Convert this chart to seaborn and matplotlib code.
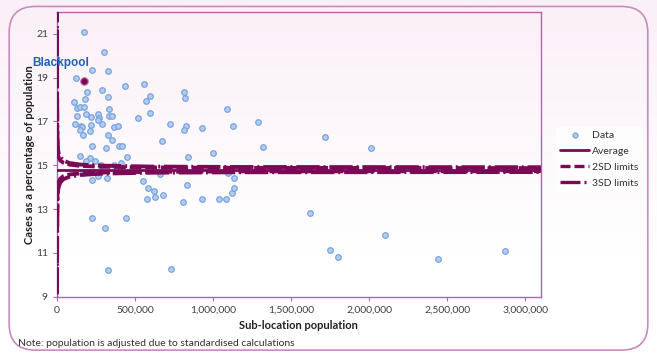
import matplotlib.pyplot as plt
import numpy as np
import pandas as pd
import seaborn as sns
from matplotlib.lines import Line2D
from matplotlib.patches import FancyBboxPatch

# points: population, cases as % of population
pop = [175000, 303000, 120000, 222000, 329000, 436000, 556000, 192000, 286000, 812000,
       820000, 594000, 568000, 325000, 107000, 179000, 128000, 147000, 175000, 333000,
       184000, 261000, 269000, 265000, 218000, 128000, 335000, 350000, 286000, 115000,
       152000, 162000, 218000, 149000, 213000, 165000, 367000, 389000, 521000, 596000,
       726000, 825000, 812000, 931000, 1088000, 329000, 350000, 675000, 222000, 316000,
       397000, 415000, 1000000, 838000, 449000, 145000, 213000, 1126000, 1287000, 1720000,
       1322000, 2011000, 186000, 242000, 284000, 365000, 408000, 222000, 263000, 322000,
       549000, 583000, 624000, 628000, 577000, 679000, 658000, 808000, 835000, 927000,
       1038000, 1083000, 1124000, 1135000, 1137000, 1094000, 226000, 310000, 440000, 325000,
       731000, 1620000, 1752000, 1801000, 2100000, 2444000, 2874000, 165000]
pct = [21.08, 20.18, 18.97, 19.35, 19.29, 18.62, 18.70, 18.36, 18.42, 18.33,
       18.07, 18.14, 17.91, 18.12, 17.90, 18.02, 17.62, 17.66, 17.68, 17.58,
       17.35, 17.35, 17.17, 17.05, 17.19, 17.23, 17.26, 17.26, 16.89, 16.86,
       16.77, 16.73, 16.83, 16.59, 16.58, 16.38, 16.74, 16.80, 17.14, 17.39,
       16.89, 16.80, 16.62, 16.68, 17.56, 16.36, 16.14, 16.12, 15.86, 15.80,
       15.86, 15.86, 15.56, 15.38, 15.38, 15.40, 15.33, 16.80, 16.99, 16.29,
       15.83, 15.79, 15.18, 15.20, 15.01, 15.01, 15.12, 14.34, 14.51, 14.44,
       14.29, 13.94, 13.83, 13.56, 13.47, 13.65, 14.59, 13.32, 14.08, 13.47,
       13.47, 13.47, 13.74, 13.95, 14.41, 14.65, 12.61, 12.14, 12.61, 10.23,
       10.26, 12.83, 11.14, 10.83, 11.83, 10.71, 11.08, 14.65]

blackpool_pop = 175000
blackpool_pct = 18.86

# control limits
lim_pop = [100, 300, 1000, 3000, 6000, 10000, 20000, 40000, 80000, 150000, 300000, 600000, 1200000, 3100000]
average = [14.8] * len(lim_pop)
upper2 = [21.2, 18.5, 16.8, 15.85, 15.5, 15.36, 15.22, 15.12, 15.03, 14.97, 14.93, 14.9, 14.88, 14.87]
lower2 = [8.4, 11.1, 12.8, 13.8, 14.1, 14.24, 14.38, 14.5, 14.58, 14.63, 14.67, 14.7, 14.72, 14.73]
upper3 = [24.4, 20.3, 17.8, 16.3, 15.75, 15.56, 15.38, 15.22, 15.1, 15.03, 14.98, 14.94, 14.92, 14.91]
lower3 = [5.2, 9.3, 11.8, 13.2, 13.8, 14.0, 14.2, 14.36, 14.48, 14.56, 14.62, 14.66, 14.68, 14.69]

sns.set_theme(style='white')
plt.rcParams['font.family'] = ['Lato', 'DejaVu Sans']

line_c = '#7A0A55'
frame_c = '#B565A5'
dot_face = '#B3CDF0'
dot_edge = '#79A3DD'

fig = plt.figure(figsize=(6.57, 3.58), dpi=100)

# background gradient + rounded frame
bg = fig.add_axes([0, 0, 1, 1], zorder=-5)
grad = np.linspace(0, 1, 256).reshape(-1, 1)
top = np.array([250, 240, 247]) / 255
white = np.array([1.0, 1.0, 1.0])
w = np.clip(grad / 0.7, 0, 1)[:, :, None]
img = w * white + (1 - w) * top
bg.imshow(img, aspect='auto', extent=[0, 1, 0, 1], origin='upper')
bg.add_patch(FancyBboxPatch((0.014, 0.022), 0.972, 0.96, boxstyle='round,pad=0,rounding_size=0.04',
                            mutation_aspect=1.8, fc='none', ec='#C98BBE', lw=1.2))
bg.set_xlim(0, 1)
bg.set_ylim(0, 1)
bg.axis('off')

ax = fig.add_axes([0.0868, 0.171, 0.7362, 0.796])
ax.set_facecolor('none')

df_pts = pd.DataFrame({'pop': pop, 'pct': pct})
sns.scatterplot(data=df_pts, x='pop', y='pct', ax=ax, s=16, color=dot_face,
                edgecolor=dot_edge, linewidth=0.9, zorder=3)

df_lim = pd.DataFrame({'pop': lim_pop, 'avg': average, 'u2': upper2, 'l2': lower2,
                       'u3': upper3, 'l3': lower3})
sns.lineplot(data=df_lim, x='pop', y='avg', ax=ax, color=line_c, lw=2.0, zorder=4)
for col in ['u2', 'l2']:
    sns.lineplot(data=df_lim, x='pop', y=col, ax=ax, color=line_c, lw=2.8, zorder=4,
                 dashes=False).lines[-1].set_dashes([3, 1.0])
for col in ['u3', 'l3']:
    sns.lineplot(data=df_lim, x='pop', y=col, ax=ax, color=line_c, lw=2.8, zorder=4,
                 dashes=False).lines[-1].set_dashes([6, 1.0, 0.5, 1.0])

ax.scatter([blackpool_pop], [blackpool_pct], s=30, color=line_c, edgecolor='#C080B0',
           linewidth=0.8, zorder=5)
ax.text(22000, 19.68, 'Blackpool', ha='center', va='center', color='#2060B8',
        fontsize=8.5, fontweight='bold', family=['Liberation Sans', 'DejaVu Sans'], zorder=6)

ax.set_xlim(0, 3100000)
ax.set_ylim(9, 22)
ax.set_xticks([0, 500000, 1000000, 1500000, 2000000, 2500000, 3000000])
ax.set_xticklabels(['0', '500,000', '1,000,000', '1,500,000', '2,000,000', '2,500,000', '3,000,000'])
ax.set_yticks([9, 11, 13, 15, 17, 19, 21])
ax.tick_params(axis='both', labelsize=7.5, colors='#404040', length=3, width=0.8,
               direction='out', bottom=True, left=True)
ax.tick_params(axis='both', color=frame_c)
for sp in ax.spines.values():
    sp.set_color(frame_c)
    sp.set_linewidth(1.0)
ax.set_xlabel('Sub-location population', fontsize=8, fontweight='bold', color='#202020', labelpad=4)
ax.set_ylabel('Cases as a percentage of population', fontsize=8, fontweight='bold', color='#202020', labelpad=1)

handles = [
    Line2D([], [], ls='none', marker='o', ms=3.5, mfc=dot_face, mec=dot_edge, mew=0.9),
    Line2D([], [], color=line_c, lw=2.0),
    Line2D([], [], color=line_c, lw=2.4, dashes=[3, 1.2]),
    Line2D([], [], color=line_c, lw=2.4, dashes=[6, 1.2, 0.6, 1.2]),
]
leg = fig.legend(handles, ['Data', 'Average', '2SD limits', '3SD limits'], loc='upper left',
                 bbox_to_anchor=(0.838, 0.66), frameon=True, fontsize=7.5, handlelength=2.8,
                 handletextpad=0.3, labelspacing=0.62, borderpad=0.4, fancybox=False)
leg.get_frame().set_facecolor('white')
leg.get_frame().set_edgecolor('none')
for t in leg.get_texts():
    t.set_color('#303030')

fig.text(0.027, 0.034, 'Note: population is adjusted due to standardised calculations',
         fontsize=7.5, color='#303030')

fig.savefig('out.png', dpi=100)
